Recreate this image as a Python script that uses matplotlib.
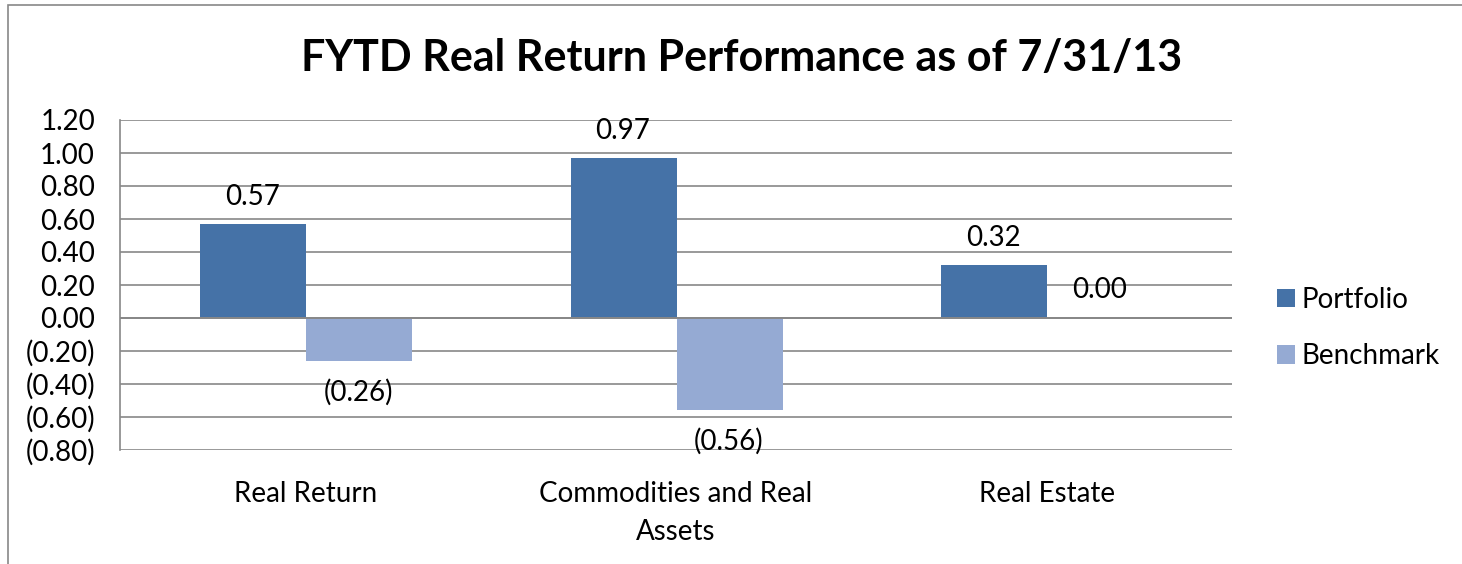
import matplotlib
matplotlib.use("Agg")
import matplotlib.pyplot as plt
from matplotlib.patches import Rectangle
import numpy as np

categories = ["Real Return", "Commodities and Real\nAssets", "Real Estate"]
portfolio = [0.57, 0.97, 0.32]
benchmark = [-0.26, -0.56, 0.00]
yticks = [1.2, 1.0, 0.8, 0.6, 0.4, 0.2, 0.0, -0.2, -0.4, -0.6, -0.8]

def fmt(v):
    return f"({abs(v):.2f})" if v < 0 else f"{v:.2f}"

plt.rcParams['font.family'] = ['Lato', 'DejaVu Sans']
FS = 20

fig = plt.figure(figsize=(14.62, 5.64), dpi=100)
ax = fig.add_axes([120/1462, 1-450/564, 1112/1462, 330/564])

c_port = "#4572A7"
c_bench = "#95AAD3"
x = np.arange(len(categories))
w = 0.286
ax.bar(x - w/2 + 0.002, portfolio, w, color=c_port, label="Portfolio", zorder=3)
ax.bar(x + w/2 + 0.002, benchmark, w, color=c_bench, label="Benchmark", zorder=3)

for xi, v in zip(x - w/2, portfolio):
    ax.text(xi, v + 0.115, fmt(v), ha="center", va="baseline", fontsize=FS)
for xi, v in zip(x + w/2, benchmark):
    if v >= 0:
        ax.text(xi, v + 0.12, fmt(v), ha="center", va="baseline", fontsize=FS)
    else:
        ax.text(xi, v - 0.24, fmt(v), ha="center", va="baseline", fontsize=FS)

ax.set_xlim(-0.5, 2.5)
ax.set_ylim(-0.8, 1.2)
ax.set_yticks(yticks)
ax.set_yticklabels([fmt(v) for v in yticks], fontsize=FS)
ax.yaxis.grid(True, color="#888888", linewidth=1.2, zorder=0)
ax.axhline(0, color="#888888", linewidth=1.4, zorder=4)
ax.set_xticks(x)
ax.set_xticklabels(categories, fontsize=FS, linespacing=1.6)
ax.tick_params(axis="x", length=0, pad=22)
ax.tick_params(axis="y", length=0, pad=18)
for s in ["top", "right", "bottom"]:
    ax.spines[s].set_visible(False)
ax.spines["left"].set_color("#888888")
ax.spines["left"].set_linewidth(1.2)

fig.text(742/1462, 1-58/564, "FYTD Real Return Performance as of 7/31/13",
         ha="center", va="center", fontsize=31, fontweight="bold")

leg = fig.legend(*ax.get_legend_handles_labels(), loc="center left",
                 bbox_to_anchor=(1252/1462, 1-328/564), frameon=False,
                 fontsize=FS, handlelength=0.65, handleheight=0.65, labelspacing=1.09,
                 handletextpad=0.25)

fig.patches.append(Rectangle((8/1462, -0.05), 1.1, 1-5/564 + 0.05, transform=fig.transFigure,
                             fill=False, edgecolor="#888888", linewidth=1.2))

fig.savefig("out.png", dpi=100)
